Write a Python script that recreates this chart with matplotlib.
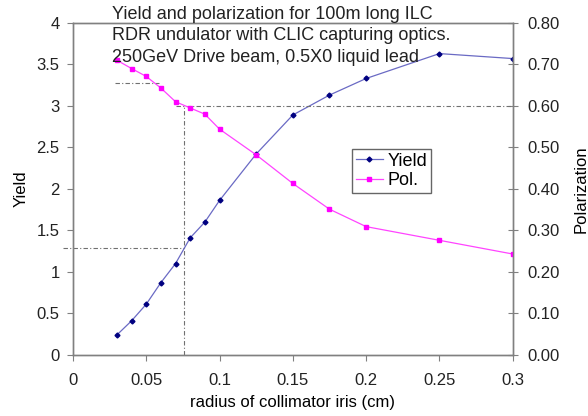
import matplotlib.pyplot as plt
from matplotlib.ticker import FormatStrFormatter

plt.rcParams['font.family'] = ['Liberation Sans', 'DejaVu Sans']

# Data
radius = [0.03, 0.04, 0.05, 0.06, 0.07, 0.08, 0.09, 0.1, 0.125, 0.15, 0.175, 0.2, 0.25, 0.3]
yield_vals = [0.24, 0.41, 0.61, 0.87, 1.10, 1.41, 1.60, 1.86, 2.42, 2.89, 3.13, 3.33, 3.63, 3.57]
pol_vals = [0.71, 0.69, 0.671, 0.643, 0.61, 0.595, 0.58, 0.544, 0.482, 0.413, 0.351, 0.309, 0.276, 0.243]

xtick_vals = [0, 0.05, 0.1, 0.15, 0.2, 0.25, 0.3]
xtick_labels = ['0', '0.05', '0.1', '0.15', '0.2', '0.25', '0.3']

# reference (guide) lines
r_cut = 0.076
yield_cut = 1.29
pol_cut = 0.6
pol_short = 0.656

fig = plt.figure(figsize=(5.88, 4.16), dpi=100)
ax = fig.add_axes([0.124, 0.147, 0.748, 0.798])
ax2 = ax.twinx()

spine_col = '#808080'
guide = dict(color='#707070', linestyle=(0, (4, 2, 1, 2)), linewidth=0.8)

# guide lines
ax.plot([-0.007, r_cut], [yield_cut, yield_cut], clip_on=False, **guide)
ax.plot([r_cut, r_cut], [0, pol_cut * 5], **guide)
ax2.plot([0.0706, 0.3], [pol_cut, pol_cut], **guide)
ax2.plot([0.0285, 0.059], [pol_short, pol_short], **guide)

l1, = ax.plot(radius, yield_vals, color='#6a6ac4', linewidth=0.9,
              marker='D', markersize=2.5, markerfacecolor='#000080',
              markeredgecolor='#000080', label='Yield')
l2, = ax2.plot(radius, pol_vals, color='#ff44ff', linewidth=0.9,
               marker='s', markersize=3.5, markerfacecolor='#ff00ff',
               markeredgecolor='#ff00ff', label='Pol.')

ax.set_xlim(0, 0.3)
ax.set_ylim(0, 4)
ax2.set_ylim(0, 0.8)
ax.set_xticks(xtick_vals)
ax.set_xticklabels(xtick_labels)
ax.set_yticks([0, 0.5, 1, 1.5, 2, 2.5, 3, 3.5, 4])
ax.set_yticklabels(['0', '0.5', '1', '1.5', '2', '2.5', '3', '3.5', '4'])
ax2.set_yticks([0, 0.1, 0.2, 0.3, 0.4, 0.5, 0.6, 0.7, 0.8])
ax2.yaxis.set_major_formatter(FormatStrFormatter('%.2f'))

for a in (ax, ax2):
    for s in a.spines.values():
        s.set_color(spine_col)
        s.set_linewidth(1.0)
ax.tick_params(axis='both', direction='out', length=4, color=spine_col,
               labelsize=12, labelcolor='#222222')
ax.tick_params(axis='y', pad=5.5)
ax.tick_params(axis='x', pad=9)
ax2.tick_params(axis='y', direction='inout', length=7, color=spine_col,
                labelsize=12, labelcolor='#222222', pad=7)

ax.set_xlabel('radius of collimator iris (cm)', fontsize=12, labelpad=5)
ax.set_ylabel('Yield', fontsize=12, labelpad=6)
ax2.set_ylabel('Polarization', fontsize=12, labelpad=10)

fig.text(112 / 588, 1 - 6 / 416,
         'Yield and polarization for 100m long ILC\n'
         'RDR undulator with CLIC capturing optics.\n'
         '250GeV Drive beam, 0.5X0 liquid lead',
         ha='left', va='top', fontsize=13, linespacing=1.33,
         color='#222222')

leg = ax2.legend(handles=[l1, l2], loc='upper left',
                 bbox_to_anchor=((352 - 73) / 439.7, 1 - (149 - 22.7) / 332.3),
                 fontsize=13, frameon=True, fancybox=False,
                 handlelength=1.5, handletextpad=0.25, borderpad=0.2,
                 labelspacing=0.15, borderaxespad=0)
leg.get_frame().set_edgecolor('#404040')
leg.get_frame().set_linewidth(1.0)

fig.savefig('out.png', dpi=100)
